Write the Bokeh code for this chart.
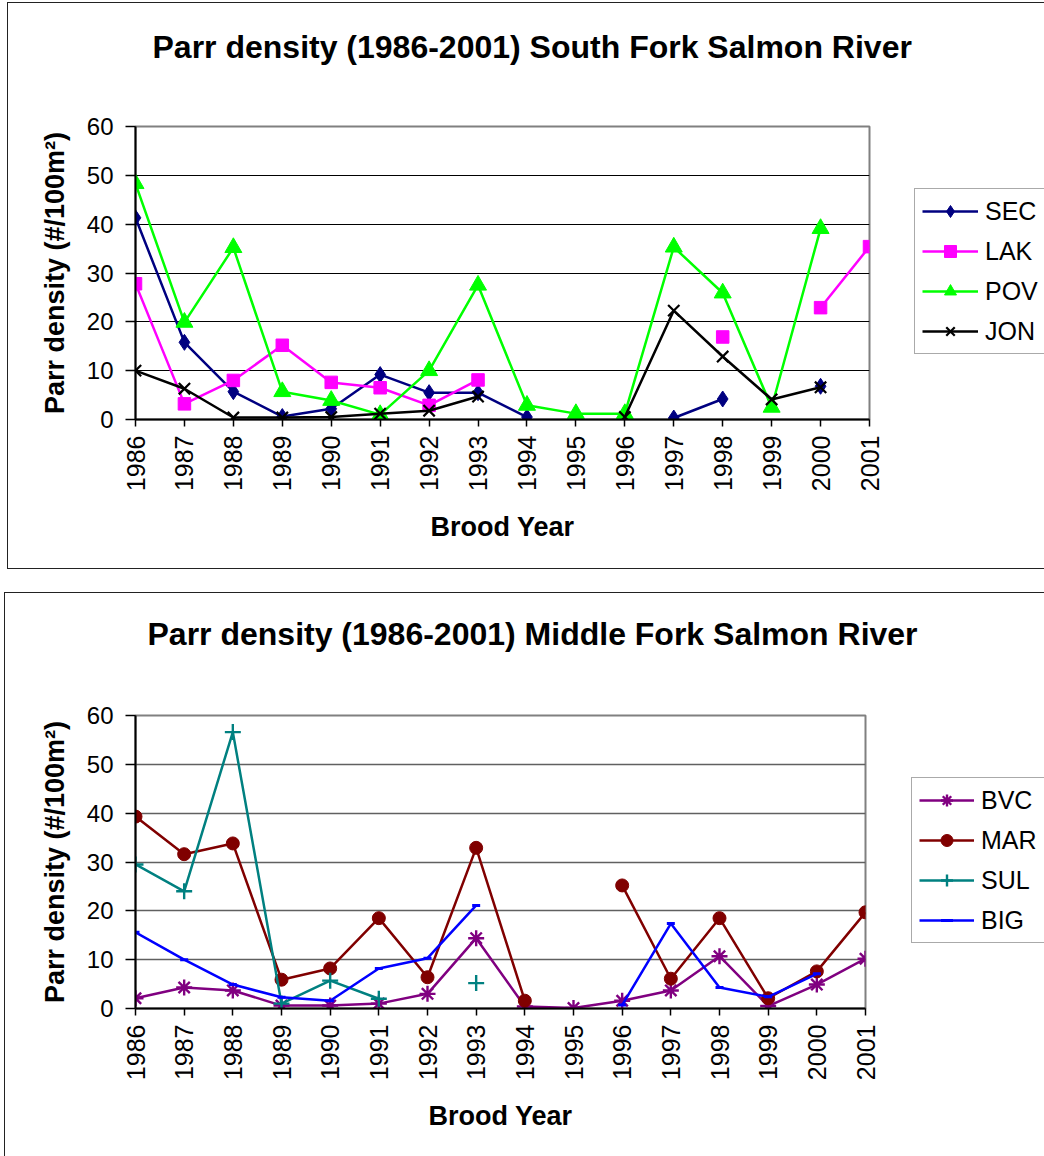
import numpy as np
from bokeh.plotting import figure
from bokeh.layouts import column
from bokeh.models import Legend, LegendItem, Range1d, FixedTicker, Title
from bokeh.embed import file_html
from bokeh.resources import INLINE

years = list(range(1986, 2002))
year_labels = [str(y) for y in years]
y_ticks = [0, 10, 20, 30, 40, 50, 60]

# South Fork Salmon River
SEC = [41.3, 15.8, 5.7, 0.6, 2.2, 9.2, 5.5, 5.5, 0.5, None, None, 0.3, 4.2, None, 6.8, None]
LAK = [27.8, 3.2, 8.0, 15.2, 7.6, 6.5, 2.9, 8.1, None, None, None, None, 16.9, None, 22.9, 35.4]
POV = [48.3, 19.9, 35.2, 5.7, 3.9, 1.0, 10.0, 27.5, 2.9, 1.2, 1.2, 35.3, 25.9, 2.5, 39.1, None]
JON = [10.0, 6.3, 0.4, 0.4, 0.5, 1.2, 1.8, 4.7, None, None, 0.5, 22.3, 12.9, 4.1, 6.6, None]

# Middle Fork Salmon River
BVC = [2.1, 4.3, 3.7, 0.6, 0.6, 1.0, 3.0, 14.4, 0.4, 0.1, 1.6, 3.7, 10.7, 0.5, 4.9, 10.2]
MAR = [39.3, 31.6, 33.8, 5.9, 8.2, 18.5, 6.4, 32.9, 1.6, None, 25.2, 6.1, 18.5, 2.1, 7.6, 19.7]
SUL = [29.5, 24.0, 56.6, 1.0, 5.7, 2.0, None, 5.2, None, None, None, None, None, None, None, None]
BIG = [15.6, 10.0, 4.9, 2.3, 1.6, 8.2, 10.3, 21.1, None, None, 0.7, 17.4, 4.3, 2.4, 7.1, None]

FONT = "Liberation Sans"


def arr(v):
    return np.array([np.nan if a is None else a for a in v], dtype=float)


def base_fig(title, width, height, fl, fw, ft, fh, fb, title_offset, spacer_gap,
             grid_color, grid_width):
    p = figure(width=width, height=height, output_backend="svg", toolbar_location=None,
               title=None,
               x_range=Range1d(1986, 2001), y_range=Range1d(0, 60),
               frame_width=fw, frame_height=fh,
               min_border_left=fl, min_border_top=ft, min_border_bottom=fb,
               min_border_right=width - fl - fw)
    # spacer (nearest the frame) then the real title (outermost)
    spacer = Title(text=" ", text_font_size="1px", standoff=spacer_gap)
    p.add_layout(spacer, "above")
    t = Title(text=title, align="left", vertical_align="top", offset=title_offset,
              standoff=54, text_font=FONT, text_font_size="32px",
              text_font_style="bold", text_color="black")
    p.add_layout(t, "above")
    p.outline_line_color = "#808080"
    p.outline_line_width = 2
    p.background_fill_color = "white"
    p.border_fill_color = "white"

    p.xaxis.ticker = FixedTicker(ticks=years)
    p.xaxis.major_label_overrides = {y: s for y, s in zip(years, year_labels)}
    p.xaxis.major_label_orientation = np.pi / 2
    p.yaxis.ticker = FixedTicker(ticks=y_ticks)
    for ax in (p.xaxis[0], p.yaxis[0]):
        ax.axis_line_color = "black"
        ax.axis_line_width = 2
        ax.major_tick_line_color = "black"
        ax.major_tick_line_width = 1.5
        ax.major_tick_in = 0
        ax.minor_tick_line_color = None
        ax.major_label_text_font = FONT
        ax.major_label_text_font_size = "25px"
        ax.major_label_text_color = "black"
        ax.axis_label_text_font = FONT
        ax.axis_label_text_font_size = "27px"
        ax.axis_label_text_font_style = "bold"
        ax.axis_label_text_color = "black"
    p.yaxis.major_label_text_font_size = "24px"
    p.xaxis.major_tick_out = 7
    p.yaxis.major_tick_out = 10
    p.xaxis.major_label_standoff = 9
    p.yaxis.major_label_standoff = 12
    p.xaxis.axis_label = "Brood Year"
    p.yaxis.axis_label = "Parr density (#/100m²)"
    p.xaxis.axis_label_standoff = 18
    p.yaxis.axis_label_standoff = 14
    p.xgrid.visible = False
    p.ygrid.grid_line_color = grid_color
    p.ygrid.grid_line_width = grid_width
    return p


def add_series(p, vals, color, marker, size, lw_marker=1.0, fill=True):
    y = arr(vals)
    r1 = p.line(years, y, line_color=color, line_width=2.5)
    kw = dict(marker=marker, size=size, line_color=color, line_width=lw_marker)
    kw["fill_color"] = color if fill else None
    r2 = p.scatter(years, y, **kw)
    return [r1, r2]


# ---------- Top chart ----------
p1 = base_fig("Parr density (1986-2001) South Fork Salmon River", 1044, 580,
              135, 734, 126, 293, 161, 17, 30, "black", 1)
items1 = [
    LegendItem(label="SEC", renderers=add_series(p1, SEC, "#000080", "diamond", 16)),
    LegendItem(label="LAK", renderers=add_series(p1, LAK, "#FF00FF", "square", 12.5)),
    LegendItem(label="POV", renderers=add_series(p1, POV, "#00FF00", "triangle", 17)),
    LegendItem(label="JON", renderers=add_series(p1, JON, "#000000", "x", 16, lw_marker=2.2, fill=False)),
]

# ---------- Bottom chart ----------
p2 = base_fig("Parr density (1986-2001) Middle Fork Salmon River", 1044, 576,
              133, 730, 135, 293, 148, 12, 31.4, "#606060", 1.5)
items2 = [
    LegendItem(label="BVC", renderers=add_series(p2, BVC, "#800080", "asterisk", 16, lw_marker=2.4, fill=False)),
    LegendItem(label="MAR", renderers=add_series(p2, MAR, "#800000", "circle", 13)),
    LegendItem(label="SUL", renderers=add_series(p2, SUL, "#008080", "cross", 16, lw_marker=2.4, fill=False)),
    LegendItem(label="BIG", renderers=add_series(p2, BIG, "#0000FF", "dash", 8, lw_marker=3, fill=False)),
]

for p, items, loc, gw in ((p1, items1, (45, 65), 56), (p2, items2, (46, 65), 55)):
    lg = Legend(items=items, location=loc)
    lg.label_text_font = FONT
    lg.label_text_font_size = "25px"
    lg.label_text_color = "black"
    lg.glyph_width = gw
    lg.glyph_height = 30
    lg.label_height = 30
    lg.label_standoff = 7
    lg.spacing = 10
    lg.padding = 7
    lg.margin = 0
    lg.border_line_color = "#555555"
    lg.border_line_width = 1.5
    lg.background_fill_color = "white"
    lg.background_fill_alpha = 1
    p.add_layout(lg, "right")

layout = column(p1, p2, spacing=0)
html = file_html(layout, INLINE, title="Parr density")
css = ("<style>html,body{margin:0;padding:0;overflow:hidden;}"
       ".chartbox{position:absolute;border:1.5px solid #222;pointer-events:none;z-index:10;}</style>")
boxes = ('<div class="chartbox" style="left:7px;top:2px;width:1100px;height:565px;"></div>'
         '<div class="chartbox" style="left:4px;top:592px;width:1100px;height:700px;"></div>')
html = html.replace("</head>", css + "</head>", 1)
html = html.replace("</body>", boxes + "</body>", 1)
open("out.html", "w").write(html)
